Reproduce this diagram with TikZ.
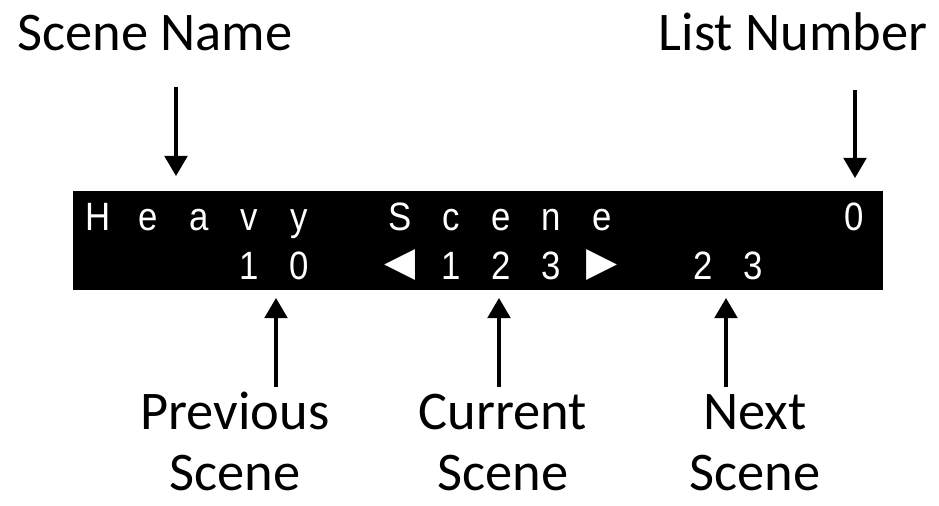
\documentclass[tikz,border=0pt]{standalone}
\usepackage{fontspec}
\setmainfont{Carlito}
\newfontfamily\lcdfont{Liberation Sans}
\newfontfamily\symfont{DejaVu Sans}
\usetikzlibrary{arrows.meta}

\tikzset{
  caption/.style={font=\fontsize{31}{34.5}\selectfont, inner sep=0pt, align=center},
  lcdchar/.style={text=white, font=\lcdfont\fontsize{22.5}{22.5}\selectfont, inner sep=0pt, anchor=base},
  lcdsym/.style={text=white, font=\symfont\fontsize{23}{23}\selectfont, inner sep=0pt},
  pointer/.style={line width=1.8pt, -{Triangle[width=13pt,length=11.5pt]}},
}

\begin{document}
\begin{tikzpicture}[x=0.02cm, y=-0.02cm]
    \useasboundingbox (0,0) rectangle (939,505);

    % the display
    \node[fill=black, inner sep=0pt, minimum width=16.2cm, minimum height=1.98cm] (lcd) at (478,240.5) {};
    \foreach \c/\ch in {0/H,1/e,2/a,3/v,4/y,6/S,7/c,8/e,9/n,10/e,15/0}
        \node[lcdchar] (row1-\c) at (98+50.4*\c,230) {\scalebox{0.88}[1]{\ch}};
    \foreach \c/\ch in {3/1,4/0,7/1,8/2,9/3,12/2,13/3}
        \node[lcdchar] (row2-\c) at (98+50.4*\c,279) {\scalebox{0.88}[1]{\ch}};
    \node[lcdsym] (row2-6) at (98+50.4*6,265) {◀};
    \node[lcdsym] (row2-10) at (98+50.4*10,265) {▶};

    % labels
    \node[caption, anchor=base] (scene-name) at (155,50) {Scene Name};
    \node[caption, anchor=base] (list-number) at (793,50) {List Number};
    \node[caption, anchor=base] (prev-scene) at (235,490) {Previous\\Scene};
    \node[caption, anchor=base] (cur-scene) at (503,490) {Current\\Scene};
    \node[caption, anchor=base] (next-scene) at (755,490) {Next\\Scene};

    % pointers
    \coordinate (sn-tail) at (176,87);
    \coordinate (sn-tip) at (176,176);
    \coordinate (ln-tail) at (855,90);
    \coordinate (ln-tip) at (855,178);
    \coordinate (ps-tail) at (276,387);
    \coordinate (ps-tip) at (276,298);
    \coordinate (cs-tail) at (499,387);
    \coordinate (cs-tip) at (499,298);
    \coordinate (ns-tail) at (726,387);
    \coordinate (ns-tip) at (726,298);
    \draw[pointer] (sn-tail) -- (sn-tip);
    \draw[pointer] (ln-tail) -- (ln-tip);
    \draw[pointer] (ps-tail) -- (ps-tip);
    \draw[pointer] (cs-tail) -- (cs-tip);
    \draw[pointer] (ns-tail) -- (ns-tip);
\end{tikzpicture}
\end{document}
